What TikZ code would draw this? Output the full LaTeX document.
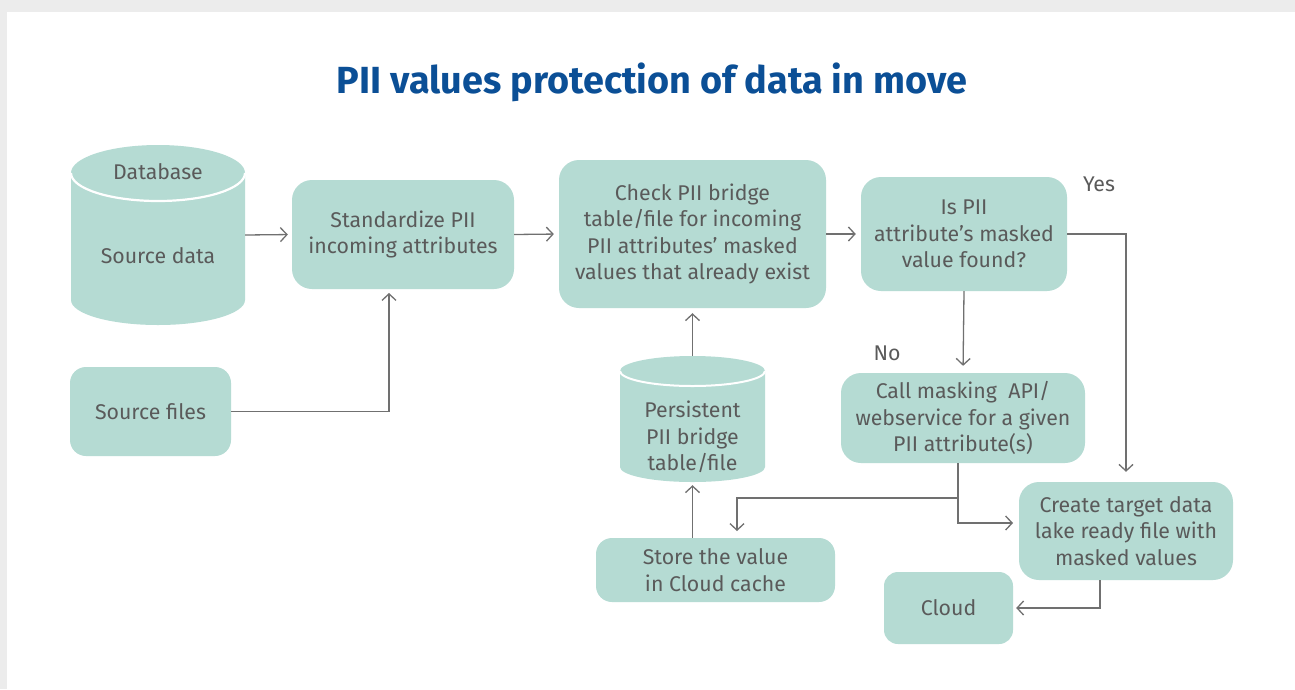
\documentclass[tikz,border=0pt]{standalone}
\usepackage{fontspec}
\setmainfont{Fira Sans}
\usetikzlibrary{arrows.meta,calc}
\definecolor{boxfill}{HTML}{B5DBD3}
\definecolor{txtgray}{HTML}{5A5A5A}
\definecolor{linegray}{HTML}{707070}
\definecolor{titleblue}{HTML}{0B4F96}
\definecolor{bggray}{HTML}{ECECEC}
\tikzset{
  box/.style={fill=boxfill, rounded corners=20pt, inner sep=0pt, text=txtgray,
    font=\fontsize{21.3}{26.5}\selectfont, align=center},
  ghost/.style={inner sep=0pt},
  lbl/.style={text=txtgray, font=\fontsize{21.3}{26.5}\selectfont, align=center, inner sep=0pt},
  arr/.style={draw=linegray, line width=1.3pt, -{Straight Barb[length=6.5pt,width=14pt,line width=1.3pt]}},
  ln/.style={draw=linegray, line width=1.3pt},
}
\begin{document}
\begin{tikzpicture}[x=1pt,y=-1pt]
\useasboundingbox (0,0) rectangle (1295,689);
\fill[bggray] (0,0) rectangle (1295,689);
\fill[white] (7,12) rectangle (1295,689);
% title
\node[font=\fontsize{37.8}{40}\selectfont\bfseries, text=titleblue, inner sep=0pt] (title) at (652,82) {PII values protection of data in move};
% database cylinder
\fill[boxfill] (71,173) -- (71,300) arc[start angle=180,end angle=0,x radius=87,y radius=25] -- (245,173) arc[start angle=0,end angle=-180,x radius=87,y radius=28] -- cycle;
\draw[white,line width=2.2pt] (71,173) arc[start angle=180,end angle=0,x radius=87,y radius=28];
\node[ghost, minimum width=174pt, minimum height=180pt] (db) at (158,235) {};
\node[lbl] (dbt) at (158,172) {Database};
\node[lbl] (dbs) at (158,256) {Source data};
% persistent cylinder
\fill[boxfill] (620,371) -- (620,467) arc[start angle=180,end angle=0,x radius=72.5,y radius=15] -- (765,371) arc[start angle=0,end angle=-180,x radius=72.5,y radius=15] -- cycle;
\draw[white,line width=2pt] (620,371) arc[start angle=180,end angle=0,x radius=72.5,y radius=15];
\node[ghost, minimum width=145pt, minimum height=126pt] (pers) at (692.5,419) {};
\node[lbl] (perst) at (692.5,437) {Persistent\\PII bridge\\table/file};
% boxes
\node[box, minimum width=222pt, minimum height=109pt] (std) at (403,234.5) {Standardize PII\\incoming attributes};
\node[box, minimum width=267pt, minimum height=148pt] (check) at (692.5,234) {Check PII bridge\\table/file for incoming\\PII attributes’ masked\\values that already exist};
\node[box, minimum width=206pt, minimum height=114pt] (ispii) at (964,234) {Is PII\\attribute’s masked\\value found?};
\node[box, rounded corners=16pt, minimum width=161pt, minimum height=89pt] (srcf) at (150.5,411.5) {Source files};
\node[box, minimum width=244pt, minimum height=90pt] (call) at (963,418) {Call masking\ \ API/\\webservice for a given\\PII attribute(s)};
\node[box, minimum width=214pt, minimum height=98pt] (create) at (1126,531) {Create target data\\lake ready file with\\masked values};
\node[box, rounded corners=16pt, minimum width=239pt, minimum height=64pt] (store) at (715.5,570) {Store the value\\in Cloud cache};
\node[box, rounded corners=14pt, minimum width=129pt, minimum height=72pt] (cloud) at (948.5,608) {Cloud};
% labels
\node[lbl] (yes) at (1099,184) {Yes};
\node[lbl] (no) at (887,353) {No};
% connectors
\coordinate (c1) at (389,293);
\coordinate (c2) at (958,498);
\coordinate (c3) at (1013,523);
\coordinate (c4) at (737,531);
\coordinate (c5) at (1100,608);
\draw[arr, shorten >=4pt] (db.east) -- (std.west);
\draw[arr] (srcf.east) -| (c1);
\draw[arr, shorten >=5pt] (std.east) -- (check.west);
\draw[arr, shorten >=5pt] (check.east) -- (ispii.west);
\draw[arr, shorten >=10pt] (ispii.east) -| (create.north);
\draw[arr, shorten >=7pt] (ispii.south) -- (call.north);
\draw[arr] (call.south -| c2) |- (c3);
\draw[arr] (c2) -| (c4);
\draw[arr, shorten >=3pt] (store.north -| pers.south) -- (pers.south);
\draw[arr, shorten >=5pt] (pers.north) -- (check.south);
\draw[arr, shorten >=3pt] (create.south -| c5) |- (cloud.east);
\end{tikzpicture}
\end{document}
